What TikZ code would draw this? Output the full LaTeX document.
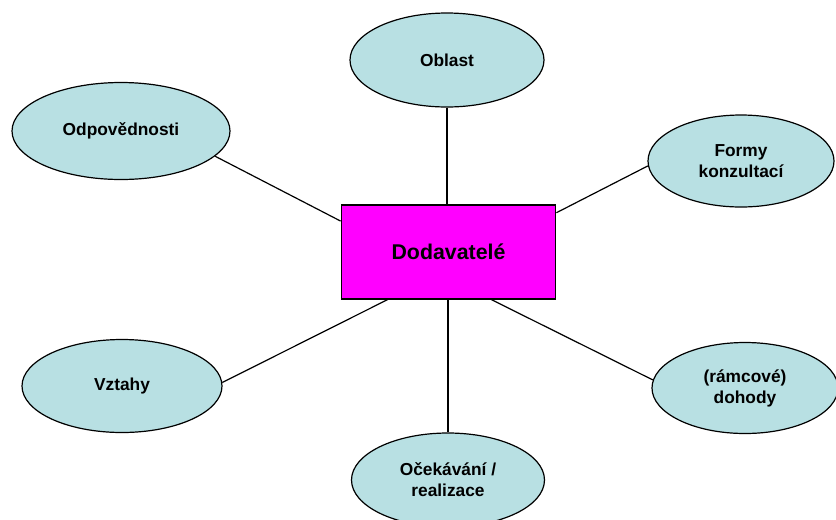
\documentclass[tikz,border=0pt]{standalone}
\usepackage{fontspec}
\setmainfont{Liberation Sans}
\usetikzlibrary{shapes.geometric}
\definecolor{topicfill}{HTML}{B8E0E3}
\definecolor{hubfill}{HTML}{FF00FF}
\begin{document}
\begin{tikzpicture}[x=0.75pt,y=-0.75pt,
  topic/.style={ellipse,draw=black,line width=0.9pt,fill=topicfill,inner sep=0pt,
    align=center,font=\bfseries\fontsize{13}{15.75}\selectfont},
  hub/.style={rectangle,draw=black,line width=0.9pt,fill=hubfill,inner sep=0pt,
    minimum width=161pt,minimum height=70.5pt,font=\bfseries\fontsize{16}{19}\selectfont},
  link/.style={draw=black,line width=0.9pt}]
\useasboundingbox (0,0) rectangle (836,519);

% central box
\node[hub] (dod) at (448.5,252) {Dodavatelé};

% surrounding topics
\node[topic,minimum width=145.5pt,minimum height=70.5pt] (obl) at (447,60) {Oblast};
\node[topic,minimum width=163.5pt,minimum height=72.75pt] (odp) at (121,131) {Odpovědnosti};
\node[topic,minimum width=139.5pt,minimum height=69pt] (for) at (741,161) {Formy\\konzultací};
\node[topic,minimum width=150pt,minimum height=69.75pt] (vzt) at (122,386) {Vztahy};
\node[topic,minimum width=139.5pt,minimum height=68.25pt] (dho) at (745,388) {(rámcové)\\dohody};
\node[topic,minimum width=144.75pt,minimum height=70.5pt] (oce) at (448,480) {Očekávání /\\realizace};

% connectors
\draw[link] (obl.south) -- (dod.north -| obl.south);
\draw[link] (odp.-15) -- (dod.164);
\draw[link] (for.183) -- (dod.20);
\draw[link] (vzt.2) -- (dod.218);
\draw[link] (dho.175) -- (dod.312);
\draw[link] (dod.south -| oce.north) -- (oce.north);
\end{tikzpicture}
\end{document}
